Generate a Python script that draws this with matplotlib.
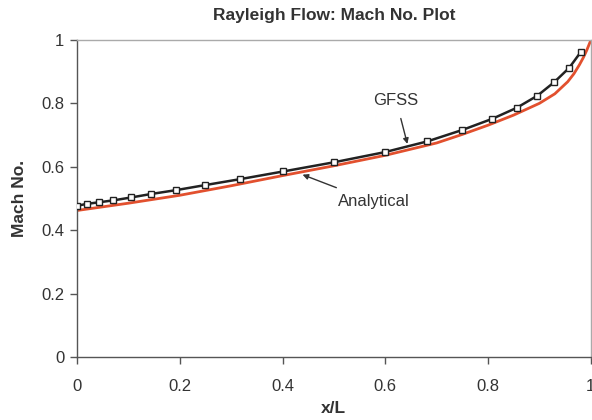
import matplotlib
matplotlib.use('Agg')
import matplotlib.pyplot as plt

plt.rcParams['font.family'] = ['Liberation Sans', 'DejaVu Sans']

# GFSS solution (markers)
gfss_x = [0.0, 0.02, 0.043, 0.071, 0.105, 0.144, 0.192, 0.249, 0.318, 0.401,
          0.5, 0.599, 0.682, 0.75, 0.808, 0.856, 0.896, 0.929, 0.958, 0.981]
gfss_m = [0.477, 0.483, 0.488, 0.494, 0.503, 0.514, 0.526, 0.542, 0.561, 0.585,
          0.614, 0.646, 0.680, 0.716, 0.751, 0.786, 0.824, 0.867, 0.912, 0.963]

# Analytical curve
anal_x = [0.0, 0.1, 0.2, 0.3, 0.4, 0.5, 0.6, 0.7, 0.75, 0.8, 0.85, 0.9, 0.93,
          0.955, 0.967, 0.978, 0.986, 0.992, 0.996, 0.999, 1.0]
anal_m = [0.462, 0.485, 0.510, 0.540, 0.572, 0.603, 0.636, 0.675, 0.702, 0.731,
          0.763, 0.800, 0.830, 0.868, 0.893, 0.922, 0.946, 0.967, 0.983, 0.995, 1.0]

x_ticks = [0, 0.2, 0.4, 0.6, 0.8, 1]
y_ticks = [0, 0.2, 0.4, 0.6, 0.8, 1]

text_col = '#333333'

fig = plt.figure(figsize=(5.92, 4.2), dpi=100)
ax = fig.add_axes([0.130, 0.150, 0.868, 0.755])

ax.plot(anal_x, anal_m, color='#e2502e', lw=2.0, zorder=2)
ax.plot(gfss_x, gfss_m, color='#222222', lw=1.8, marker='s', markersize=4.5,
        markerfacecolor='white', markeredgecolor='#222222', markeredgewidth=1.0,
        zorder=3)

ax.set_xlim(0, 1)
ax.set_ylim(0, 1)
ax.set_xticks(x_ticks)
ax.set_yticks(y_ticks)
ax.set_xticklabels([f'{v:g}' for v in x_ticks])
ax.set_yticklabels([f'{v:g}' for v in y_ticks])
ax.tick_params(axis='both', direction='out', length=5, width=1,
               color='#555555', labelsize=12, labelcolor=text_col)
ax.tick_params(axis='x', pad=11)
ax.tick_params(axis='y', pad=4)

for side in ['left', 'bottom']:
    ax.spines[side].set_color('#555555')
    ax.spines[side].set_linewidth(1)
for side in ['top', 'right']:
    ax.spines[side].set_color('#aaaaaa')
    ax.spines[side].set_linewidth(1)

ax.set_title('Rayleigh Flow: Mach No. Plot', fontsize=12.5, fontweight='bold',
             color=text_col, pad=14)
ax.set_xlabel('x/L', fontsize=12.5, fontweight='bold', color=text_col, labelpad=5)
ax.set_ylabel('Mach No.', fontsize=12.5, fontweight='bold', color=text_col, labelpad=10)

# annotations
ax.annotate('GFSS', xy=(0.643, 0.672), xytext=(0.621, 0.81),
            fontsize=12, color=text_col, ha='center', va='center',
            arrowprops=dict(arrowstyle='-|>', color='#333333', lw=1,
                            mutation_scale=8, shrinkA=6, shrinkB=0))
ax.annotate('Analytical', xy=(0.439, 0.575), xytext=(0.577, 0.489),
            fontsize=12, color=text_col, ha='center', va='center',
            arrowprops=dict(arrowstyle='-|>', color='#333333', lw=1,
                            mutation_scale=8, shrinkA=8, shrinkB=0))

fig.savefig('out.png', dpi=100)
